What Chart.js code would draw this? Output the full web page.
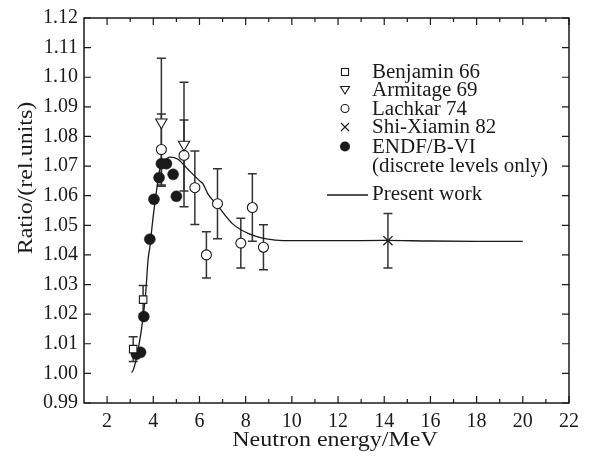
<!DOCTYPE html>
<html>
<head>
<meta charset="utf-8">
<script src="https://cdn.jsdelivr.net/npm/chart.js@4/dist/chart.umd.min.js"></script>
<style>
html,body{margin:0;padding:0;background:#fff;}
canvas{display:block;}
</style>
</head>
<body>
<canvas id="c" width="589" height="456"></canvas>
<script>
// ---- data ----
const xTicks = [2,4,6,8,10,12,14,16,18,20,22];
const xMinorTicks = [3,5,7,9,11,13,15,17,19,21];
const yTicks = [0.99,1.00,1.01,1.02,1.03,1.04,1.05,1.06,1.07,1.08,1.09,1.10,1.11,1.12];

const benjaminE = [3.13, 3.56];
const benjaminR = [1.0082, 1.0249];
const benjaminErr = [0.0042, 0.0048];

const armitageE = [4.35, 5.33];
const armitageR = [1.0848, 1.0773];
const armitageErr = [0.0216, 0.0210];

const lachkarE = [4.35, 5.33, 5.80, 6.30, 6.78, 7.79, 8.29, 8.77];
const lachkarR = [1.0756, 1.0736, 1.0627, 1.0400, 1.0573, 1.0440, 1.0560, 1.0426];
const lachkarErr = [0.0120, 0.0120, 0.0124, 0.0078, 0.0118, 0.0084, 0.0114, 0.0076];

const shiE = [14.16];
const shiR = [1.0448];
const shiErr = [0.0092];

const endfE = [3.27, 3.45, 3.59, 3.85, 4.03, 4.25, 4.35, 4.57, 4.86, 5.00];
const endfR = [1.0065, 1.0071, 1.0192, 1.0453, 1.0588, 1.0661, 1.0708, 1.0708, 1.0672, 1.0598];

const curveE = [3.06, 3.13, 3.34, 3.56, 3.68, 3.77, 3.85, 3.99, 4.14, 4.28, 4.50, 4.71, 5.07, 5.44, 5.58, 6.01, 6.16, 6.37, 6.74, 7.45, 8.18, 8.90, 9.62, 10.34, 12.0, 14.0, 16.0, 18.0, 20.0];
const curveR = [1.0003, 1.0011, 1.0078, 1.0190, 1.0280, 1.0381, 1.0426, 1.0526, 1.0616, 1.0689, 1.0717, 1.0730, 1.0723, 1.0694, 1.0683, 1.0650, 1.0639, 1.0605, 1.0571, 1.0504, 1.0470, 1.0454, 1.0448, 1.0448, 1.0448, 1.0449, 1.0447, 1.0446, 1.0446];

const legendLabels = ['Benjamin 66', 'Armitage 69', 'Lachkar 74', 'Shi-Xiamin 82', 'ENDF/B-VI', '(discrete levels only)', 'Present work'];
const xTitle = 'Neutron energy/MeV';
const yTitle = 'Ratio/(rel.units)';

// ---- helpers ----
const pts = (xs, ys) => xs.map((x, i) => ({x: x, y: ys[i]}));
const FONT = '"Liberation Serif", "Times New Roman", serif';
const INK = '#1a1a1a';

const errorBars = {
  id: 'errorBars',
  beforeDatasetsDraw(chart) {
    const ctx = chart.ctx, xs = chart.scales.x, ys = chart.scales.y;
    ctx.save();
    ctx.strokeStyle = '#333';
    ctx.lineWidth = 1.5;
    chart.data.datasets.forEach(ds => {
      if (!ds.errors) return;
      ds.data.forEach((p, i) => {
        const e = ds.errors[i];
        const px = xs.getPixelForValue(p.x);
        const y1 = ys.getPixelForValue(p.y + e), y2 = ys.getPixelForValue(p.y - e);
        ctx.beginPath();
        ctx.moveTo(px, y1); ctx.lineTo(px, y2);
        ctx.moveTo(px - 4.5, y1); ctx.lineTo(px + 4.5, y1);
        ctx.moveTo(px - 4.5, y2); ctx.lineTo(px + 4.5, y2);
        ctx.stroke();
      });
    });
    ctx.restore();
  }
};

const frameTicks = {
  id: 'frameTicks',
  afterDraw(chart) {
    const ctx = chart.ctx, a = chart.chartArea, xs = chart.scales.x, ys = chart.scales.y;
    ctx.save();
    ctx.strokeStyle = INK;
    ctx.lineWidth = 1.5;
    ctx.strokeRect(a.left, a.top, a.right - a.left, a.bottom - a.top);
    ctx.lineWidth = 1.2;
    ctx.beginPath();
    xTicks.forEach(v => {
      const px = xs.getPixelForValue(v);
      ctx.moveTo(px, a.bottom); ctx.lineTo(px, a.bottom - 7);
      ctx.moveTo(px, a.top); ctx.lineTo(px, a.top + 7);
    });
    xMinorTicks.forEach(v => {
      const px = xs.getPixelForValue(v);
      ctx.moveTo(px, a.bottom); ctx.lineTo(px, a.bottom - 4);
      ctx.moveTo(px, a.top); ctx.lineTo(px, a.top + 4);
    });
    yTicks.forEach(v => {
      const py = ys.getPixelForValue(v);
      ctx.moveTo(a.left, py); ctx.lineTo(a.left + 7, py);
      ctx.moveTo(a.right, py); ctx.lineTo(a.right - 7, py);
    });
    ctx.stroke();

    // axis titles
    ctx.fillStyle = INK;
    ctx.font = '20px ' + FONT;
    ctx.textAlign = 'center';
    ctx.textBaseline = 'middle';
    ctx.save();
    ctx.translate(335, 441);
    ctx.scale(1.2, 1);
    ctx.fillText(xTitle, 0, 0);
    ctx.restore();
    ctx.save();
    ctx.translate(27, 178);
    ctx.rotate(-Math.PI / 2);
    ctx.scale(1.2, 1);
    ctx.fillText(yTitle, 0, 0);
    ctx.restore();

    // legend
    const mx = 345, tx = 372;
    const rows = [72, 90, 108.5, 127, 146.5, 166, 194];
    ctx.font = '20px ' + FONT;
    ctx.textAlign = 'left';
    ctx.textBaseline = 'middle';
    ctx.save();
    ctx.translate(tx, 0);
    ctx.scale(1.05, 1);
    legendLabels.forEach((t, i) => ctx.fillText(t, 0, rows[i] + 1));
    ctx.restore();
    ctx.lineWidth = 1.1;
    ctx.strokeStyle = INK;
    // square
    ctx.strokeRect(mx - 3.5, rows[0] - 3.5, 7, 7);
    // down triangle
    ctx.beginPath();
    ctx.moveTo(mx - 4.5, rows[1] - 3.5); ctx.lineTo(mx + 4.5, rows[1] - 3.5); ctx.lineTo(mx, rows[1] + 4); ctx.closePath();
    ctx.stroke();
    // open circle
    ctx.beginPath(); ctx.arc(mx, rows[2], 4, 0, Math.PI * 2); ctx.stroke();
    // cross
    ctx.beginPath();
    ctx.moveTo(mx - 4, rows[3] - 4); ctx.lineTo(mx + 4, rows[3] + 4);
    ctx.moveTo(mx + 4, rows[3] - 4); ctx.lineTo(mx - 4, rows[3] + 4);
    ctx.stroke();
    // filled circle
    ctx.beginPath(); ctx.arc(mx, rows[4], 5, 0, Math.PI * 2); ctx.fill();
    // line
    ctx.lineWidth = 1.3;
    ctx.beginPath(); ctx.moveTo(327, rows[6] + 1); ctx.lineTo(368, rows[6] + 1); ctx.stroke();
    ctx.restore();
  }
};

new Chart(document.getElementById('c'), {
  type: 'scatter',
  data: {
    datasets: [
      {label: legendLabels[1], data: pts(armitageE, armitageR), errors: armitageErr,
       pointStyle: 'triangle', rotation: 180, pointRadius: 6.5, borderColor: INK, backgroundColor: '#fff', borderWidth: 1.1},
      {label: legendLabels[2], data: pts(lachkarE, lachkarR), errors: lachkarErr,
       pointStyle: 'circle', pointRadius: 5, borderColor: INK, backgroundColor: '#fff', borderWidth: 1.1},
      {label: legendLabels[0], data: pts(benjaminE, benjaminR), errors: benjaminErr,
       pointStyle: 'rect', pointRadius: 5.3, borderColor: INK, backgroundColor: '#fff', borderWidth: 1.1},
      {label: legendLabels[3], data: pts(shiE, shiR), errors: shiErr,
       pointStyle: 'crossRot', pointRadius: 6.5, borderColor: INK, backgroundColor: INK, borderWidth: 1.3},
      {label: legendLabels[4], data: pts(endfE, endfR),
       pointStyle: 'circle', pointRadius: 5.5, borderColor: INK, backgroundColor: INK, borderWidth: 0.5},
      {label: legendLabels[6], type: 'line', data: pts(curveE, curveR), showLine: true,
       pointRadius: 0, borderColor: INK, borderWidth: 1.3, fill: false, tension: 0.35, cubicInterpolationMode: 'monotone'}
    ]
  },
  options: {
    responsive: false,
    animation: false,
    devicePixelRatio: 1,
    layout: {padding: {left: 0, right: 20, top: 17, bottom: 0}},
    plugins: {legend: {display: false}, tooltip: {enabled: false}, title: {display: false}},
    scales: {
      x: {
        type: 'linear', min: 1, max: 22,
        afterBuildTicks: s => { s.ticks = xTicks.map(v => ({value: v})); },
        afterFit: s => { s.height = 53; },
        grid: {display: false, drawTicks: false}, border: {display: false},
        ticks: {color: INK, padding: 7, maxRotation: 0, font: {family: FONT, size: 20}}
      },
      y: {
        type: 'linear', min: 0.99, max: 1.12,
        afterBuildTicks: s => { s.ticks = yTicks.map(v => ({value: v})); },
        afterFit: s => { s.width = 84; },
        grid: {display: false, drawTicks: false}, border: {display: false},
        ticks: {color: INK, padding: 6, font: {family: FONT, size: 20}, callback: v => Number(v).toFixed(2)}
      }
    }
  },
  plugins: [errorBars, frameTicks]
});
</script>
</body>
</html>
